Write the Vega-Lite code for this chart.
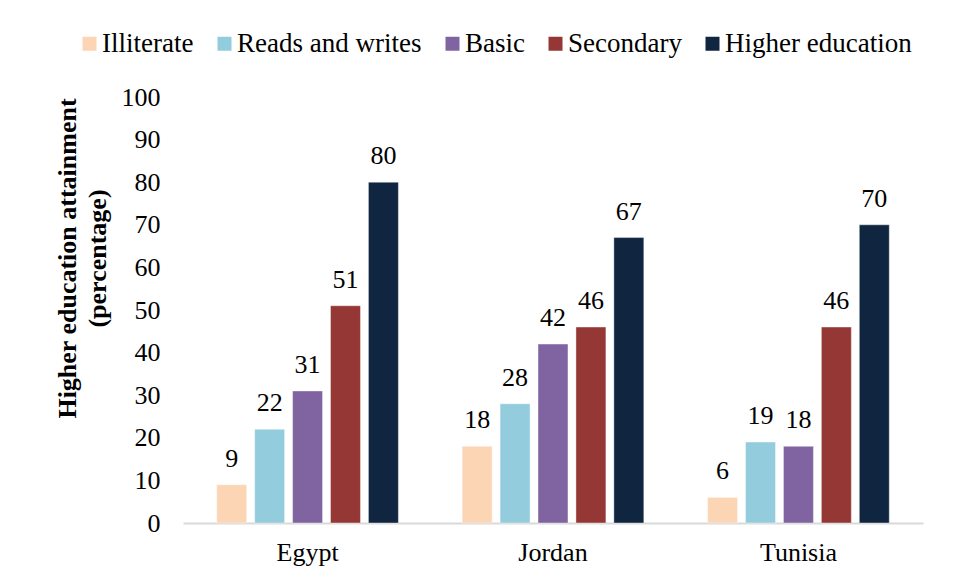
{
  "$schema": "https://vega.github.io/schema/vega-lite/v6.json",
  "autosize": {"type": "none"},
  "width": 740,
  "height": 426,
  "padding": {"left": 183, "top": 97, "right": 33, "bottom": 56},
  "background": "white",
  "config": {
    "font": "Times New Roman, Liberation Serif, serif",
    "axis": {"labelFont": "Times New Roman, Liberation Serif, serif", "titleFont": "Times New Roman, Liberation Serif, serif"},
    "legend": {"labelFont": "Times New Roman, Liberation Serif, serif"},
    "text": {"font": "Times New Roman, Liberation Serif, serif"},
    "view": {"stroke": null}
  },
  "data": {
    "values": [
      {"country": "Egypt", "level": "Illiterate", "value": 9},
      {"country": "Egypt", "level": "Reads and writes", "value": 22},
      {"country": "Egypt", "level": "Basic", "value": 31},
      {"country": "Egypt", "level": "Secondary", "value": 51},
      {"country": "Egypt", "level": "Higher education", "value": 80},
      {"country": "Jordan", "level": "Illiterate", "value": 18},
      {"country": "Jordan", "level": "Reads and writes", "value": 28},
      {"country": "Jordan", "level": "Basic", "value": 42},
      {"country": "Jordan", "level": "Secondary", "value": 46},
      {"country": "Jordan", "level": "Higher education", "value": 67},
      {"country": "Tunisia", "level": "Illiterate", "value": 6},
      {"country": "Tunisia", "level": "Reads and writes", "value": 19},
      {"country": "Tunisia", "level": "Basic", "value": 18},
      {"country": "Tunisia", "level": "Secondary", "value": 46},
      {"country": "Tunisia", "level": "Higher education", "value": 70}
    ]
  },
  "encoding": {
    "x": {
      "field": "country",
      "type": "nominal",
      "sort": null,
      "scale": {"paddingInner": 0.229, "paddingOuter": 0.122},
      "axis": {
        "title": null,
        "labelAngle": 0,
        "labelFontSize": 26,
        "labelColor": "#000000",
        "labelPadding": 16,
        "ticks": false,
        "tickSize": 0,
        "domainColor": "#d9d9d9",
        "domainWidth": 2
      }
    },
    "xOffset": {
      "field": "level",
      "type": "nominal",
      "sort": ["Illiterate", "Reads and writes", "Basic", "Secondary", "Higher education"],
      "scale": {"paddingInner": 0.21, "paddingOuter": 0.1}
    },
    "y": {
      "field": "value",
      "type": "quantitative",
      "scale": {"domain": [0, 100], "nice": false},
      "axis": {
        "title": ["Higher education attainment", "(percentage)"],
        "titleFontSize": 26,
        "titleFontWeight": "bold",
        "titleColor": "#000000",
        "titleLineHeight": 30,
        "titlePadding": 11,
        "titleY": 161,
        "values": [0, 10, 20, 30, 40, 50, 60, 70, 80, 90, 100],
        "grid": false,
        "domain": false,
        "ticks": false,
        "tickSize": 0,
        "labelFontSize": 26,
        "labelColor": "#000000",
        "labelPadding": 23
      }
    }
  },
  "layer": [
    {
      "mark": {"type": "bar", "stroke": "#ffffff", "strokeWidth": 0.8, "strokeOpacity": 0.5},
      "encoding": {
        "color": {
          "field": "level",
          "type": "nominal",
          "sort": ["Illiterate", "Reads and writes", "Basic", "Secondary", "Higher education"],
          "scale": {
            "domain": ["Illiterate", "Reads and writes", "Basic", "Secondary", "Higher education"],
            "range": ["#fcd5b5", "#93cddd", "#8064a2", "#953735", "#10253f"]
          },
          "legend": {
            "title": null,
            "orient": "none",
            "direction": "horizontal",
            "legendX": -107,
            "legendY": -67,
            "symbolType": "square",
            "symbolSize": 196,
            "symbolStrokeWidth": 0,
            "labelFontSize": 27,
            "labelColor": "#000000",
            "labelOffset": -1,
            "columnPadding": 17,
            "labelLimit": 400
          }
        }
      }
    },
    {
      "mark": {"type": "text", "baseline": "alphabetic", "dy": -18, "fontSize": 26, "color": "#000000"},
      "encoding": {
        "text": {"field": "value", "type": "quantitative"}
      }
    }
  ]
}
